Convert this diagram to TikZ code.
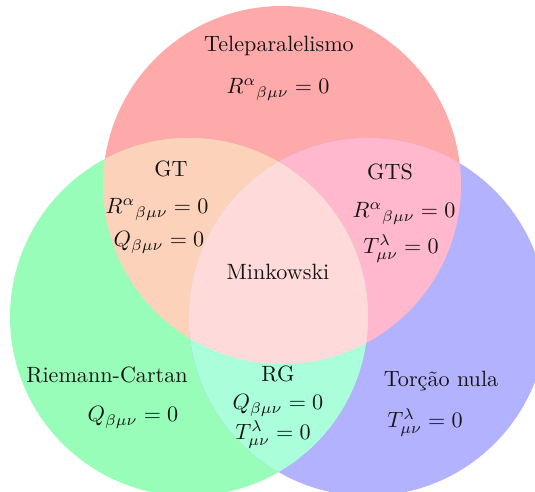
\documentclass[tikz,border=0pt]{standalone}
\usepackage{fontspec}
\begin{document}
\begin{tikzpicture}[x=0.452pt,y=-0.452pt,
  lbl/.style={anchor=mid,inner sep=0pt,text=black!92}]
\definecolor{cR}{RGB}{255,170,170}
\definecolor{cG}{RGB}{153,253,186}
\definecolor{cB}{RGB}{178,178,255}
\definecolor{cRG}{RGB}{253,210,186}
\definecolor{cRB}{RGB}{255,184,206}
\definecolor{cGB}{RGB}{170,255,218}
\definecolor{cC}{RGB}{255,218,218}
\useasboundingbox (0,0) rectangle (535,491);
\begin{scope}
  \clip (0,0) rectangle (535,491);
  \fill[cR] (282,185) circle (179);
  \fill[cG] (189,317) circle (179);
  \fill[cB] (368,317) circle (179);
  \begin{scope}
    \clip (282,185) circle (179);
    \fill[cRG] (189,317) circle (179);
  \end{scope}
  \begin{scope}
    \clip (282,185) circle (179);
    \fill[cRB] (368,317) circle (179);
  \end{scope}
  \begin{scope}
    \clip (189,317) circle (179);
    \fill[cGB] (368,317) circle (179);
  \end{scope}
  \begin{scope}
    \clip (282,185) circle (179);
    \clip (189,317) circle (179);
    \fill[cC] (368,317) circle (179);
  \end{scope}
\end{scope}
% Teleparalelismo
\node[lbl] (tele) at (279,47) {Teleparalelismo};
\node[lbl] (teleR) at (278,89) {$R^{\alpha}{}_{\beta\mu\nu}=0$};
% GT
\node[lbl] (gt) at (171,172) {GT};
\node[lbl] (gtR) at (157,209) {$R^{\alpha}{}_{\beta\mu\nu}=0$};
\node[lbl] (gtQ) at (159,242) {$Q_{\beta\mu\nu}=0$};
% GTS
\node[lbl] (gts) at (390,175) {GTS};
\node[lbl] (gtsR) at (404,213) {$R^{\alpha}{}_{\beta\mu\nu}=0$};
\node[lbl] (gtsT) at (401,249) {$T^{\lambda}_{\mu\nu}=0$};
% Minkowski
\node[lbl] (mink) at (278,275) {Minkowski};
% Riemann-Cartan
\node[lbl] (rc) at (107,378) {Riemann-Cartan};
\node[lbl] (rcQ) at (133,417) {$Q_{\beta\mu\nu}=0$};
% RG
\node[lbl] (rg) at (278,377) {RG};
\node[lbl] (rgQ) at (278,405) {$Q_{\beta\mu\nu}=0$};
\node[lbl] (rgT) at (273,435) {$T^{\lambda}_{\mu\nu}=0$};
% Torcao nula
\node[lbl] (tn) at (441,382) {Torção nula};
\node[lbl] (tnT) at (425,423) {$T^{\lambda}_{\mu\nu}=0$};
\end{tikzpicture}
\end{document}
